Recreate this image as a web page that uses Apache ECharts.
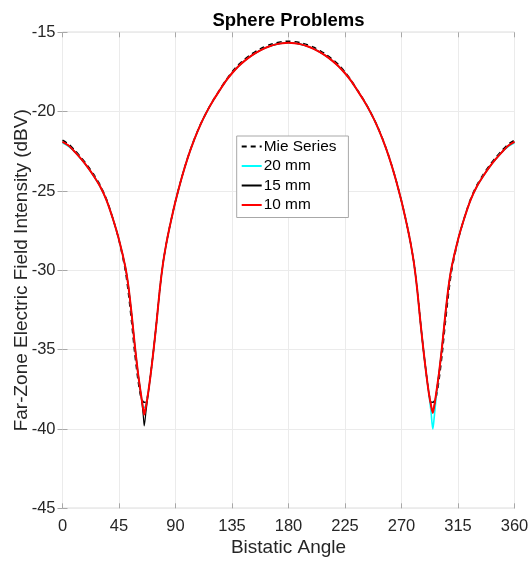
<!DOCTYPE html>
<html><head><meta charset="utf-8">
<script src="https://cdn.jsdelivr.net/npm/echarts@6/dist/echarts.min.js"></script>
<style>html,body{margin:0;padding:0;background:#fff}#c{width:531px;height:563px}</style>
</head><body><div id="c"></div>
<script>
const titleText = 'Sphere Problems';
const xName = 'Bistatic Angle';
const yName = 'Far-Zone Electric Field Intensity (dBV)';
const seriesNames = ['Mie Series', '20 mm', '15 mm', '10 mm'];
const xTicks = [0, 45, 90, 135, 180, 225, 270, 315, 360];
const yTicks = [-45, -40, -35, -30, -25, -20, -15];

const angles = [0,5,10,15,20,25,30,35,40,45,
  50,52.5,55,57.5,60,62,63.5,64.5,65.1,66.5,
  68,70,72.5,75,77.5,80,82.5,85,87.5,90,
  95,100,105,110,115,120,125,130,135,140,
  145,150,155,160,165,170,175,180,
  185,190,195,200,205,210,215,220,225,230,235,240,245,250,255,260,265,
  270,272.5,275,277.5,280,282.5,285,287.5,290,292,
  293.5,294.9,295.5,296.5,298,300,302.5,305,307.5,310,
  315,320,325,330,335,340,345,350,355,360];

const red10 = [-21.9,-22.15,-22.55,-23.0,-23.5,-24.07,-24.72,-25.57,-26.72,-28.07,
  -29.77,-31.02,-32.72,-34.67,-36.4,-37.55,-38.35,-38.85,-39.1,-38.55,
  -37.85,-36.7,-35.05,-33.2,-31.2,-29.6,-28.4,-27.4,-26.5,-25.65,
  -24.15,-22.85,-21.75,-20.8,-20.0,-19.3,-18.68,-18.08,-17.58,-17.15,
  -16.8,-16.5,-16.25,-16.04,-15.88,-15.76,-15.69,-15.66,
  -15.69,-15.76,-15.88,-16.04,-16.25,-16.5,-16.8,-17.15,-17.58,-18.08,-18.68,-19.3,-20.0,-20.8,-21.75,-22.85,-24.15,
  -25.65,-26.5,-27.4,-28.4,-29.6,-31.2,-33.2,-35.05,-36.7,-37.85,
  -38.5,-39.0,-38.8,-38.35,-37.55,-36.4,-34.67,-32.72,-31.02,-29.77,
  -28.07,-26.72,-25.57,-24.72,-24.07,-23.5,-23.0,-22.55,-22.15,-21.9];

const mie = [-21.8,-22.05,-22.45,-22.9,-23.4,-23.97,-24.63,-25.5,-26.7,-28.12,
  -30.0,-31.45,-33.25,-35.2,-36.85,-37.85,-38.2,-38.3,-38.32,-38.3,
  -37.82,-36.68,-35.03,-33.18,-31.18,-29.58,-28.38,-27.38,-26.48,-25.63,
  -24.13,-22.83,-21.73,-20.78,-19.98,-19.27,-18.64,-18.03,-17.5,-17.05,
  -16.7,-16.4,-16.15,-15.94,-15.78,-15.66,-15.59,-15.56,
  -15.59,-15.66,-15.78,-15.94,-16.15,-16.4,-16.7,-17.05,-17.5,-18.03,-18.64,-19.27,-19.98,-20.78,-21.73,-22.83,-24.13,
  -25.63,-26.48,-27.38,-28.38,-29.58,-31.18,-33.18,-35.03,-36.68,-37.82,
  -38.3,-38.32,-38.3,-38.2,-37.85,-36.85,-35.2,-33.25,-31.45,-30.0,
  -28.12,-26.7,-25.5,-24.63,-23.97,-23.4,-22.9,-22.45,-22.05,-21.8];

const cyan20 = [-21.97,-22.2,-22.55,-23.0,-23.5,-24.07,-24.72,-25.57,-26.72,-28.07,
  -29.77,-31.02,-32.72,-34.67,-36.4,-37.55,-38.35,-38.65,-38.65,-38.45,
  -37.85,-36.7,-35.05,-33.2,-31.2,-29.6,-28.4,-27.4,-26.5,-25.65,
  -24.15,-22.85,-21.75,-20.8,-20.0,-19.3,-18.68,-18.08,-17.58,-17.15,
  -16.8,-16.5,-16.25,-16.04,-15.88,-15.76,-15.69,-15.66,
  -15.69,-15.76,-15.88,-16.04,-16.25,-16.5,-16.8,-17.15,-17.58,-18.08,-18.68,-19.3,-20.0,-20.8,-21.75,-22.85,-24.15,
  -25.65,-26.5,-27.4,-28.4,-29.6,-31.2,-33.2,-35.05,-36.7,-37.9,
  -38.9,-40.0,-39.7,-38.9,-37.7,-36.4,-34.67,-32.72,-31.02,-29.77,
  -28.07,-26.72,-25.57,-24.72,-24.07,-23.5,-23.0,-22.55,-22.2,-21.97];

const black15 = [-21.9,-22.15,-22.55,-23.0,-23.5,-24.07,-24.72,-25.57,-26.72,-28.07,
  -29.77,-31.02,-32.72,-34.67,-36.4,-37.55,-38.5,-39.3,-39.8,-38.9,
  -37.95,-36.7,-35.05,-33.2,-31.2,-29.6,-28.4,-27.4,-26.5,-25.65,
  -24.15,-22.85,-21.75,-20.8,-20.0,-19.3,-18.68,-18.08,-17.58,-17.15,
  -16.8,-16.5,-16.25,-16.04,-15.88,-15.76,-15.69,-15.66,
  -15.69,-15.76,-15.88,-16.04,-16.25,-16.5,-16.8,-17.15,-17.58,-18.08,-18.68,-19.3,-20.0,-20.8,-21.75,-22.85,-24.15,
  -25.65,-26.5,-27.4,-28.4,-29.6,-31.2,-33.2,-35.05,-36.7,-37.85,
  -38.5,-38.9,-38.75,-38.35,-37.55,-36.4,-34.67,-32.72,-31.02,-29.77,
  -28.07,-26.72,-25.57,-24.72,-24.07,-23.5,-23.0,-22.55,-22.15,-21.9];

function pairs(vals){ return angles.map((a,i)=>[a, vals[i]]); }

const font = '"Liberation Sans", Arial, Helvetica, sans-serif';
const chart = echarts.init(document.getElementById('c'), null, {renderer:'canvas'});
const gridCol = '#ebebeb', boxCol = '#a8a8a8', txt = '#262626';
function xAx(pos, labels){
  return {type:'value', position:pos, min:xTicks[0], max:xTicks[xTicks.length-1], interval:45,
    axisLine:{show:false}, axisTick:{show:true, inside:true, length:5, lineStyle:{color:boxCol}},
    axisLabel:{show:labels, color:txt, fontFamily:font, fontSize:16.5, margin:10},
    splitLine:{show:labels, lineStyle:{color:gridCol, width:1}},
    name: labels ? xName : '', nameLocation:'middle', nameGap:30, nameMoveOverlap:false,
    nameTextStyle:{color:txt, fontFamily:font, fontSize:19}};
}
function yAx(pos, labels){
  return {type:'value', position:pos, min:yTicks[0], max:yTicks[yTicks.length-1], interval:5,
    axisLine:{show:false}, axisTick:{show:true, inside:true, length:5, lineStyle:{color:boxCol}},
    axisLabel:{show:labels, color:txt, fontFamily:font, fontSize:16.5, margin:7},
    splitLine:{show:labels, lineStyle:{color:gridCol, width:1}},
    name: labels ? yName : '', nameLocation:'middle', nameGap:31, nameMoveOverlap:false,
    nameTextStyle:{color:txt, fontFamily:font, fontSize:19}};
}
const common = {type:'line', showSymbol:false, symbol:'none', smooth:0.25};
const option = {
  backgroundColor:'#ffffff',
  animation:false,
  title:{text:titleText, left:288.5, textAlign:'center', top:11, padding:0,
    textStyle:{fontFamily:font, fontSize:18.5, fontWeight:'bold', color:'#000'}},
  grid:{left:62.5, right:16.5, top:32.3, bottom:54.7, show:true, borderColor:boxCol, borderWidth:1,
    backgroundColor:'transparent', containLabel:false, outerBoundsMode:'none'},
  xAxis:[xAx('bottom', true), xAx('top', false)],
  yAxis:[yAx('left', true), yAx('right', false)],
  legend:{orient:'vertical', left:236.7, top:136, itemWidth:20, itemHeight:12, itemGap:4.5,
    backgroundColor:'#fff', borderColor:'#a8a8a8', borderWidth:1, borderRadius:0,
    padding:[3,12,5,4],
    itemStyle:{opacity:0},
    textStyle:{fontFamily:font, fontSize:15.4, color:'#000', padding:[0,0,0,-3]},
    data:seriesNames},
  series:[
    Object.assign({name:seriesNames[0], data:pairs(mie),
      lineStyle:{color:'#000', width:1.5, type:[5,4]}, itemStyle:{color:'#000'}, z:2}, common),
    Object.assign({name:seriesNames[1], data:pairs(cyan20),
      lineStyle:{color:'#00ffff', width:1.6}, itemStyle:{color:'#00ffff'}, z:3}, common),
    Object.assign({name:seriesNames[2], data:pairs(black15),
      lineStyle:{color:'#000', width:1.2}, itemStyle:{color:'#000'}, z:4}, common),
    Object.assign({name:seriesNames[3], data:pairs(red10),
      lineStyle:{color:'#ff0000', width:2}, itemStyle:{color:'#ff0000'}, z:5}, common)
  ]
};
chart.setOption(option);
</script></body></html>
